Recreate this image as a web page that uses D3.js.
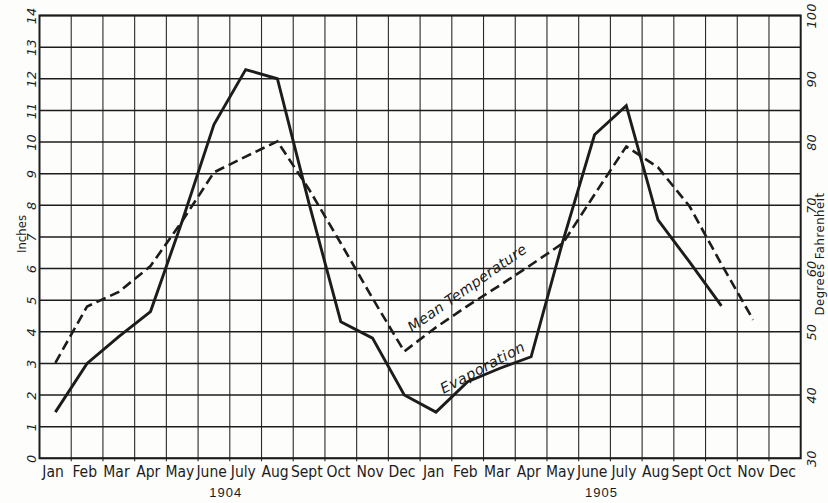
<!DOCTYPE html>
<html>
<head>
<meta charset="utf-8">
<script src="https://cdn.jsdelivr.net/npm/d3@7"></script>
<style>
  html, body { margin: 0; padding: 0; background: #fdfdfc; }
  svg { display: block; }
  text { fill: #1a1a1a; }
</style>
</head>
<body>
<svg id="chart" width="828" height="503"></svg>
<script>
// Monthly evaporation (inches) and mean temperature (°F), Jan 1904 – Dec 1905
const years = ["1904", "1905"];
const monthNames = ["Jan", "Feb", "Mar", "Apr", "May", "June", "July", "Aug", "Sept", "Oct", "Nov", "Dec"];
const categories = years.flatMap(y => monthNames.map(m => m + " " + y));

// Evaporation, inches (ends Oct 1905)
const evaporation = [
  1.46, 3.0, 3.85, 4.64, 7.5, 10.55, 12.29, 12.0, 8.05, 4.32, 3.8, 2.0,
  1.46, 2.42, 2.84, 3.21, 6.86, 10.23, 11.15, 7.54, 6.2, 4.82
];
// Mean temperature, degrees Fahrenheit (ends Nov 1905)
const temperature = [
  45.1, 54.0, 56.3, 60.4, 67.5, 75.2, 77.7, 80.1, 72.5, 64.0, 55.3, 46.9,
  50.7, 54.1, 57.3, 60.6, 64.0, 71.7, 79.3, 76.0, 69.8, 60.7, 51.9
];

const inchTicks = d3.range(0, 15);
const degreeTicks = d3.range(30, 101, 10);

const svg = d3.select("#chart");
const plotLeft = 39.5, plotRight = 800.7, plotTop = 15.5, plotBottom = 458.3;

const x = d3.scaleBand().domain(categories).range([plotLeft, plotRight]).paddingInner(0).paddingOuter(0);
const yIn = d3.scaleLinear().domain([0, 14]).range([plotBottom, plotTop]);
const yDeg = d3.scaleLinear().domain([30, 100]).range([plotBottom, plotTop]);

const ink = "#1c1c1c";
const handFont = "'DejaVu Sans', sans-serif";
const narrowFont = "'Liberation Sans Narrow', 'DejaVu Sans Condensed', 'Liberation Sans', sans-serif";

// Grid: vertical month boundaries and horizontal inch lines
const grid = svg.append("g");
categories.forEach((c, i) => {
  if (i === 0) return;
  grid.append("line")
    .attr("x1", x(c)).attr("x2", x(c))
    .attr("y1", plotTop).attr("y2", plotBottom + 3)
    .attr("stroke", "#2a2a2a").attr("stroke-width", 1.1);
});
inchTicks.forEach(v => {
  grid.append("line")
    .attr("x1", plotLeft).attr("x2", plotRight)
    .attr("y1", yIn(v)).attr("y2", yIn(v))
    .attr("stroke", ink).attr("stroke-width", 1.5);
});
svg.append("rect")
  .attr("x", plotLeft).attr("y", plotTop)
  .attr("width", plotRight - plotLeft).attr("height", plotBottom - plotTop)
  .attr("fill", "none").attr("stroke", ink).attr("stroke-width", 2);

// Left axis (inches), labels turned on their side
const leftAxis = svg.append("g")
  .attr("transform", `translate(${plotLeft},0)`)
  .call(d3.axisLeft(yIn).tickValues(inchTicks).tickSize(0).tickPadding(0));
leftAxis.select(".domain").remove();
leftAxis.selectAll("text")
  .attr("x", null)
  .attr("text-anchor", "middle")
  .attr("transform", "translate(-1,0) rotate(-90)")
  .attr("dy", "-0.2em")
  .style("font-family", handFont).style("font-style", "italic")
  .style("font-size", "13px").style("fill", ink);

// Right axis (degrees Fahrenheit)
const rightAxis = svg.append("g")
  .attr("transform", `translate(${plotRight},0)`)
  .call(d3.axisRight(yDeg).tickValues(degreeTicks).tickSize(0).tickPadding(0));
rightAxis.select(".domain").remove();
rightAxis.selectAll("text")
  .attr("x", null)
  .attr("text-anchor", "middle")
  .attr("transform", "translate(5,0) rotate(-90)")
  .attr("dy", "0.8em")
  .style("font-family", handFont).style("font-style", "italic")
  .style("font-size", "13px").style("fill", ink);

// Bottom axis: month names
const bottomAxis = svg.append("g")
  .attr("transform", `translate(0,${plotBottom})`)
  .call(d3.axisBottom(x).tickSize(0).tickPadding(8).tickFormat(d => d.split(" ")[0]));
bottomAxis.select(".domain").remove();
bottomAxis.selectAll("text")
  .attr("dx", "-0.15em")
  .style("font-family", narrowFont).style("font-size", "15.5px").style("fill", ink);

// Year captions
svg.selectAll(".year").data(years).enter().append("text")
  .attr("class", "year")
  .attr("x", (d, i) => x("July " + d) - (i === 0 ? 4 : 9))
  .attr("y", 497)
  .attr("text-anchor", "middle")
  .style("font-family", "'Liberation Sans', sans-serif").style("font-size", "13px")
  .style("letter-spacing", "1px")
  .text(d => d);

// Axis titles
svg.append("text")
  .attr("transform", "translate(26,234) rotate(-90)")
  .attr("text-anchor", "middle")
  .style("font-family", narrowFont).style("font-size", "13px")
  .text("Inches");
svg.append("text")
  .attr("transform", "translate(824,254) rotate(-90)")
  .attr("text-anchor", "middle")
  .style("font-family", narrowFont).style("font-size", "13px")
  .style("letter-spacing", "0.5px")
  .text("Degrees  Fahrenheit");

// Series lines
const cx = d => x(d) + x.bandwidth() / 2;
const evapLine = d3.line().x((d, i) => cx(categories[i])).y(d => yIn(d));
const tempLine = d3.line().x((d, i) => cx(categories[i])).y(d => yDeg(d));

svg.append("path")
  .datum(temperature)
  .attr("d", tempLine)
  .attr("fill", "none").attr("stroke", ink)
  .attr("stroke-width", 2.6).attr("stroke-dasharray", "10,5")
  .attr("stroke-linejoin", "miter");

svg.append("path")
  .datum(evaporation)
  .attr("d", evapLine)
  .attr("fill", "none").attr("stroke", ink)
  .attr("stroke-width", 2.9).attr("stroke-linejoin", "miter");

// Inline series captions
svg.append("text")
  .attr("transform", "translate(470,292) rotate(-35)")
  .attr("text-anchor", "middle")
  .style("font-family", handFont).style("font-style", "italic")
  .style("font-size", "14.5px").style("letter-spacing", "0.3px")
  .text("Mean Temperature");
svg.append("text")
  .attr("transform", "translate(485,372) rotate(-28)")
  .attr("text-anchor", "middle")
  .style("font-family", handFont).style("font-style", "italic")
  .style("font-size", "14.5px").style("letter-spacing", "0.6px")
  .text("Evaporation");
</script>
</body>
</html>
